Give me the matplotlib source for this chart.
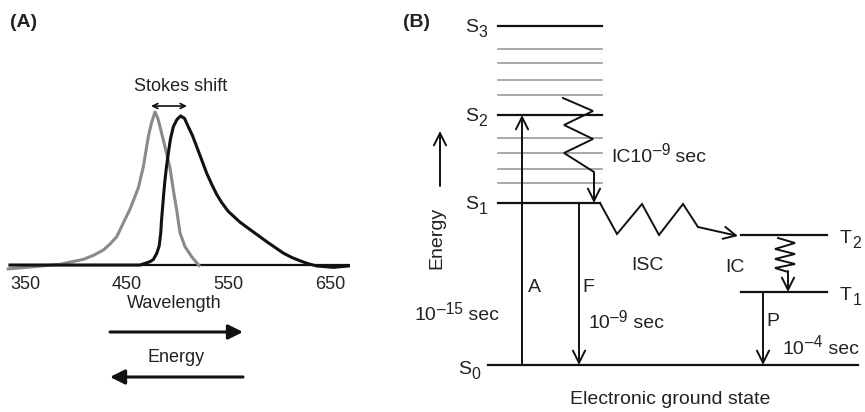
import matplotlib
matplotlib.use('Agg')
import matplotlib.pyplot as plt

plt.rcParams['font.family'] = ['Liberation Sans', 'DejaVu Sans']

INK = '#222222'
LINE = '#111111'
GREY = '#8a8a8a'
FS_A = 13
FS_B = 14

# ---- panel A: spectra (wavelength nm, relative intensity)
abs_wl = [332.0, 358.2, 384.4, 407.3, 416.9, 427.0, 433.6, 440.2, 446.7,
          453.3, 461.4, 466.4, 471.3, 474.4, 477.9, 480.8, 482.8, 487.7,
          492.6, 495.9, 499.2, 502.5, 507.4, 514.0, 522.1]
abs_int = [-0.026, -0.011, 0.005, 0.037, 0.062, 0.098, 0.137, 0.185, 0.275,
           0.365, 0.503, 0.642, 0.839, 0.928, 1.0, 0.955, 0.904, 0.773,
           0.634, 0.490, 0.359, 0.209, 0.120, 0.054, -0.011]

em_wl = [335.2, 463.1, 472.9, 476.2, 479.5, 482.0, 483.5, 484.3, 485.4,
         486.5, 487.7, 489.2, 491.0, 493.1, 495.9, 499.5, 503.1, 506.9,
         510.6, 514.7, 518.9, 523.6, 528.7, 533.6, 538.5, 543.3, 550.0,
         561.5, 571.3, 579.2, 587.7, 596.0, 604.1, 612.6, 620.5, 628.4,
         636.9, 653.2, 669.7]
em_int = [0.0, 0.0, 0.022, 0.036, 0.075, 0.125, 0.209, 0.294, 0.381, 0.471,
          0.556, 0.644, 0.732, 0.824, 0.904, 0.951, 0.974, 0.958, 0.904,
          0.846, 0.773, 0.690, 0.600, 0.528, 0.462, 0.410, 0.350, 0.280,
          0.232, 0.194, 0.153, 0.115, 0.078, 0.049, 0.028, 0.009, -0.006,
          -0.015, -0.005]

wl_ticks = [350, 450, 550, 650]

# ---- panel B: Jablonski levels (diagram units, y grows downward)
singlet_labels = ['3', '2', '1']
singlet_y = [26, 115, 203]
vib_y = [49, 63, 80, 95, 138, 153, 169, 183]
triplet_labels = ['2', '1']
triplet_y = [235, 292]
ground_y = 365

fig = plt.figure(figsize=(8.65, 4.12), dpi=100)
ax = fig.add_axes([0, 0, 1, 1])
ax.set_xlim(0, 865)
ax.set_ylim(412, 0)
ax.axis('off')


def sub_label(x, y, base, sub, fs):
    t = ax.text(x, y, base, fontsize=fs, color=INK, ha='left', va='baseline')
    ax.annotate(sub, xy=(1, 0), xycoords=t, xytext=(0.5, -3),
                textcoords='offset points', fontsize=fs * 0.82, color=INK,
                ha='left', va='bottom')


def sup_label(x, y, base, sup, tail, fs):
    t = ax.text(x, y, base, fontsize=fs, color=INK, ha='left', va='center')
    s = ax.annotate(sup, xy=(1, 0.42), xycoords=t, xytext=(0.3, 0),
                    textcoords='offset points', fontsize=fs * 0.8, color=INK,
                    ha='left', va='bottom')
    ax.annotate(tail, xy=(1, 0), xycoords=(s, t), fontsize=fs, color=INK,
                ha='left', va='bottom')


# spectra axes placed over px x 5..350, y 100..275
axA = fig.add_axes([5 / 865, (412 - 275) / 412, 345 / 865, 175 / 412])
axA.patch.set_alpha(0)
axA.set_xlim(330.3, 669.7)
axA.set_ylim(-0.065, 1.078)
for s in axA.spines.values():
    s.set_visible(False)
axA.set_yticks([])
axA.set_xticks(wl_ticks)
axA.set_xticklabels([str(w) for w in wl_ticks], fontsize=FS_A, color=INK)
axA.tick_params(axis='x', length=0, pad=0.5)
axA.axhline(0, xmin=0.015, color=LINE, lw=1.6)
axA.plot(abs_wl, abs_int, color=GREY, lw=2.2, solid_capstyle='butt')
axA.plot(em_wl, em_int, color=LINE, lw=2.2)

ax.text(10, 22, '(A)', fontsize=FS_B, fontweight='bold', color=INK, va='center')
ax.text(181, 86, 'Stokes shift', fontsize=FS_A, color=INK, ha='center', va='center')
ax.annotate('', xy=(151, 106), xytext=(187, 106),
            arrowprops=dict(arrowstyle='<->', color=LINE, lw=1.2,
                            mutation_scale=9, shrinkA=0, shrinkB=0))
ax.text(174, 304, 'Wavelength', fontsize=FS_A, color=INK, ha='center', va='center')
ax.annotate('', xy=(243, 332), xytext=(110, 332),
            arrowprops=dict(arrowstyle='-|>', color=LINE, lw=2.2,
                            mutation_scale=22, shrinkA=0, shrinkB=0))
ax.text(176, 358, 'Energy', fontsize=FS_A, color=INK, ha='center', va='center')
ax.annotate('', xy=(110, 377), xytext=(243, 377),
            arrowprops=dict(arrowstyle='-|>', color=LINE, lw=2.2,
                            mutation_scale=22, shrinkA=0, shrinkB=0))

# ---- panel B
ax.text(403, 22, '(B)', fontsize=FS_B, fontweight='bold', color=INK, va='center')
for y in vib_y:
    ax.plot([498, 602], [y, y], color='#9a9a9a', lw=1.2)
for lab, y in zip(singlet_labels, singlet_y):
    x1 = 600 if lab == '1' else 602
    ax.plot([498, x1], [y, y], color=LINE, lw=1.6)
    sub_label(465, y + 6, 'S', lab, FS_B)
for lab, y in zip(triplet_labels, triplet_y):
    ax.plot([741, 827], [y, y], color=LINE, lw=1.6)
    sub_label(840, y + 8, 'T', lab, FS_B)
ax.plot([488, 858], [ground_y, ground_y], color=LINE, lw=1.6)
sub_label(458, ground_y + 9, 'S', '0', FS_B)

arrow = dict(arrowstyle='->', color=LINE, lw=1.4, mutation_scale=22,
             shrinkA=0, shrinkB=0)

# energy axis arrow
ax.annotate('', xy=(440, 131), xytext=(440, 186), arrowprops=arrow)
ax.text(437, 238, 'Energy', fontsize=FS_B, color=INK, rotation=90,
        ha='center', va='center')

# absorption A
ax.annotate('', xy=(522, singlet_y[1]), xytext=(522, ground_y), arrowprops=arrow)
ax.text(528, 288, 'A', fontsize=FS_B, color=INK, ha='left', va='center')
sup_label(415, 316, '10', '\u201315', ' sec', FS_B)

# fluorescence F
ax.annotate('', xy=(579, ground_y), xytext=(579, singlet_y[2]), arrowprops=arrow)
ax.text(582, 287, 'F', fontsize=FS_B, color=INK, ha='left', va='center')
sup_label(588, 324, '10', '\u20139', ' sec', FS_B)

# internal conversion S2 -> S1
ic_x = [563, 593, 564, 593, 564, 594, 594]
ic_y = [98, 111, 125, 139, 153, 172, 180]
ax.plot(ic_x, ic_y, color=LINE, lw=1.4, solid_joinstyle='miter')
ax.annotate('', xy=(594, singlet_y[2]), xytext=(594, 178), arrowprops=arrow)
sup_label(611, 157, 'IC10', '\u20139', ' sec', FS_B)

# intersystem crossing S1 -> T2
isc_x = [600, 617, 642, 659, 683, 698]
isc_y = [203, 234, 204, 235, 204, 227]
ax.plot(isc_x, isc_y, color=LINE, lw=1.4, solid_joinstyle='miter')
ax.annotate('', xy=(738, 236), xytext=(698, 227), arrowprops=arrow)
ax.text(647, 265, 'ISC', fontsize=FS_B, color=INK, ha='center', va='center')
ax.text(735, 267, 'IC', fontsize=FS_B, color=INK, ha='center', va='center')

# internal conversion T2 -> T1
tic_x = [778, 795, 775, 795, 775, 795, 775, 788]
tic_y = [238, 243, 249, 254, 259, 264, 268, 272]
ax.plot(tic_x, tic_y, color=LINE, lw=1.4, solid_joinstyle='miter')
ax.annotate('', xy=(788, triplet_y[1]), xytext=(788, 271), arrowprops=arrow)

# phosphorescence P
ax.annotate('', xy=(763, ground_y), xytext=(763, triplet_y[1]), arrowprops=arrow)
ax.text(766, 322, 'P', fontsize=FS_B, color=INK, ha='left', va='center')
sup_label(783, 349, '10', '\u20134', ' sec', FS_B)

ax.text(670, 400, 'Electronic ground state', fontsize=FS_B, color=INK,
        ha='center', va='center')

fig.savefig('out.png', dpi=100)
